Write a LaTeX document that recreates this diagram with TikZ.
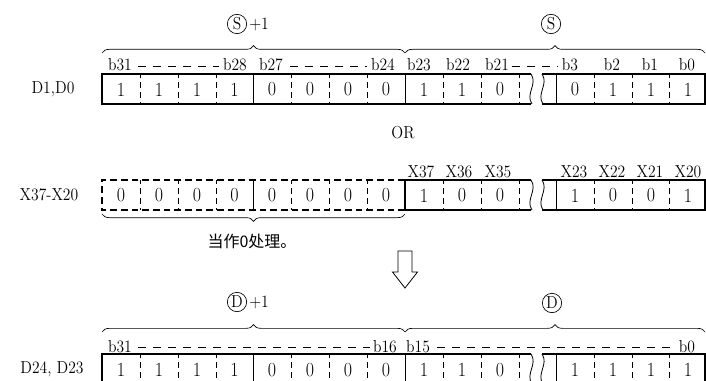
\documentclass[tikz,border=0pt]{standalone}
\usepackage{fontspec}
\setmainfont{Latin Modern Roman}[FakeStretch=0.9]
\newfontfamily\cjkfont{Noto Sans CJK SC}
\usetikzlibrary{decorations.pathreplacing,positioning}

\tikzset{
  cellval/.style={font=\fontsize{15}{15}\selectfont, inner sep=0pt},
  bitlbl/.style={font=\fontsize{13}{13}\selectfont, inner sep=0pt, anchor=base},
  rowlbl/.style={font=\fontsize{13}{13}\selectfont, inner sep=0pt},
  frame/.style={line width=1.1pt},
  dashframe/.style={line width=1pt, dash pattern=on 5pt off 3pt},
  divsolid/.style={line width=0.6pt},
  divdash/.style={line width=0.6pt, dash pattern=on 4.5pt off 3pt, dash phase=1.5pt},
  lbldash/.style={line width=0.6pt, dash pattern=on 6pt off 5.25pt},
  brc/.style={decorate, decoration={brace, amplitude=5.5pt}, line width=0.5pt},
  regcirc/.style={draw, circle, line width=0.5pt, minimum size=14.5pt, inner sep=0pt,
    font=\fontsize{13}{13}\selectfont},
}

\begin{document}
\begin{tikzpicture}[x=0.75pt,y=-0.75pt]
\useasboundingbox (0,0) rectangle (706,381);
\clip (0,0) rectangle (706,381);

% register frames, rows 1 and 3
\foreach \T in {74,354}{
  \draw[frame] (531,\T) -- (102,\T) -- (102,\T+30) -- (531,\T+30);
  \draw[frame] (542,\T) -- (705,\T) -- (705,\T+30) -- (542,\T+30);
  \foreach \x in {253.5,405,556.5}
    \draw[divsolid] (\x,\T) -- (\x,\T+30);
  \foreach \x in {140,178,216,291,329,367,443,481,519,594,632,669}
    \draw[divdash] (\x,\T) -- (\x,\T+30);
  \foreach \x in {531,542}
    \draw[divsolid] (\x,\T) .. controls (\x+7,\T+10) and (\x-6,\T+20) .. (\x+1,\T+30);
}

% row 2, upper half taken as 0
\draw[dashframe] (405,180) -- (102,180) -- (102,210) -- (405,210);
\draw[frame] (531,180) -- (405,180) -- (405,210) -- (531,210);
\draw[frame] (542,180) -- (705,180) -- (705,210) -- (542,210);
\foreach \x in {253.5,556.5}
  \draw[divsolid] (\x,180) -- (\x,210);
\foreach \x in {140,178,216,291,329,367,443,481,519,594,632,669}
  \draw[divdash] (\x,180) -- (\x,210);
\foreach \x in {531,542}
  \draw[divsolid] (\x,180) .. controls (\x+7,190) and (\x-6,200) .. (\x+1,210);

% cell values
\foreach \x/\a/\b/\c [count=\i] in {121/1/0/1,159/1/0/1,197/1/0/1,234.5/1/0/1,
    272/0/0/0,310/0/0/0,348/0/0/0,386/0/0/0,424/1/1/1,462/1/0/1,500/0/0/0,
    575/0/1/1,613/1/0/1,651/1/0/1,688/1/1/1}{
  \node[cellval] (ra\i) at (\x,89.5) {\a};
  \node[cellval] (rb\i) at (\x,195.5) {\b};
  \node[cellval] (rc\i) at (\x,370) {\c};
}

% row names
\node[rowlbl] (nd1) at (53,89) {D1,D0};
\node[rowlbl] (nx) at (49,195) {X37-X20};
\node[rowlbl] (nd2) at (52,369) {D24, D23};

% bit labels
\foreach \x/\t in {120/b31,235/b28,271/b27,383/b24,419/b23,458/b22,497/b21,
    570/b3,612/b2,650/b1,687/b0}
  \node[bitlbl] (s\t) at (\x,71) {\t};
\draw[lbldash] (138,66) -- (219,66);
\draw[lbldash] (290,66) -- (367,66);
\draw[lbldash] (512,66) -- (558,66);

\foreach \x/\t in {421/X37,459/X36,498/X35,574/X23,612/X22,650/X21,688/X20}
  \node[bitlbl] (x\t) at (\x,177) {\t};

\foreach \x/\t in {120/b31,385/b16,418/b15,687/b0}
  \node[bitlbl] (d\t) at (\x,352) {\t};
\draw[lbldash] (138,347) -- (370,347);
\draw[lbldash] (437,347) -- (674,347);

% braces and register marks
\draw[brc] (102,53) -- (405,53);
\draw[brc] (405,53) -- (705,53);
\node[regcirc] (cs1) at (237,24) {S};
\node[rowlbl, right=1.5pt of cs1] (ps1) {+1};
\node[regcirc] (cs0) at (551,24) {S};

\node[rowlbl] (op) at (403,133) {OR};

\draw[brc] (405,214) -- (102,214);
\node[font=\cjkfont\fontsize{12}{12}\selectfont, inner sep=0pt] (zero) at (252,241) {当作0处理。};

% result arrow
\draw[line width=0.6pt] (398,251) -- (398,272) -- (392.5,272) -- (405,288)
  -- (417.5,272) -- (412,272) -- (412,251) -- cycle;

\draw[brc] (102,332) -- (405,332);
\draw[brc] (405,332) -- (705,332);
\node[regcirc] (cd1) at (237,302) {D};
\node[rowlbl, right=1.5pt of cd1] (pd1) {+1};
\node[regcirc] (cd0) at (552,303) {D};
\end{tikzpicture}
\end{document}
